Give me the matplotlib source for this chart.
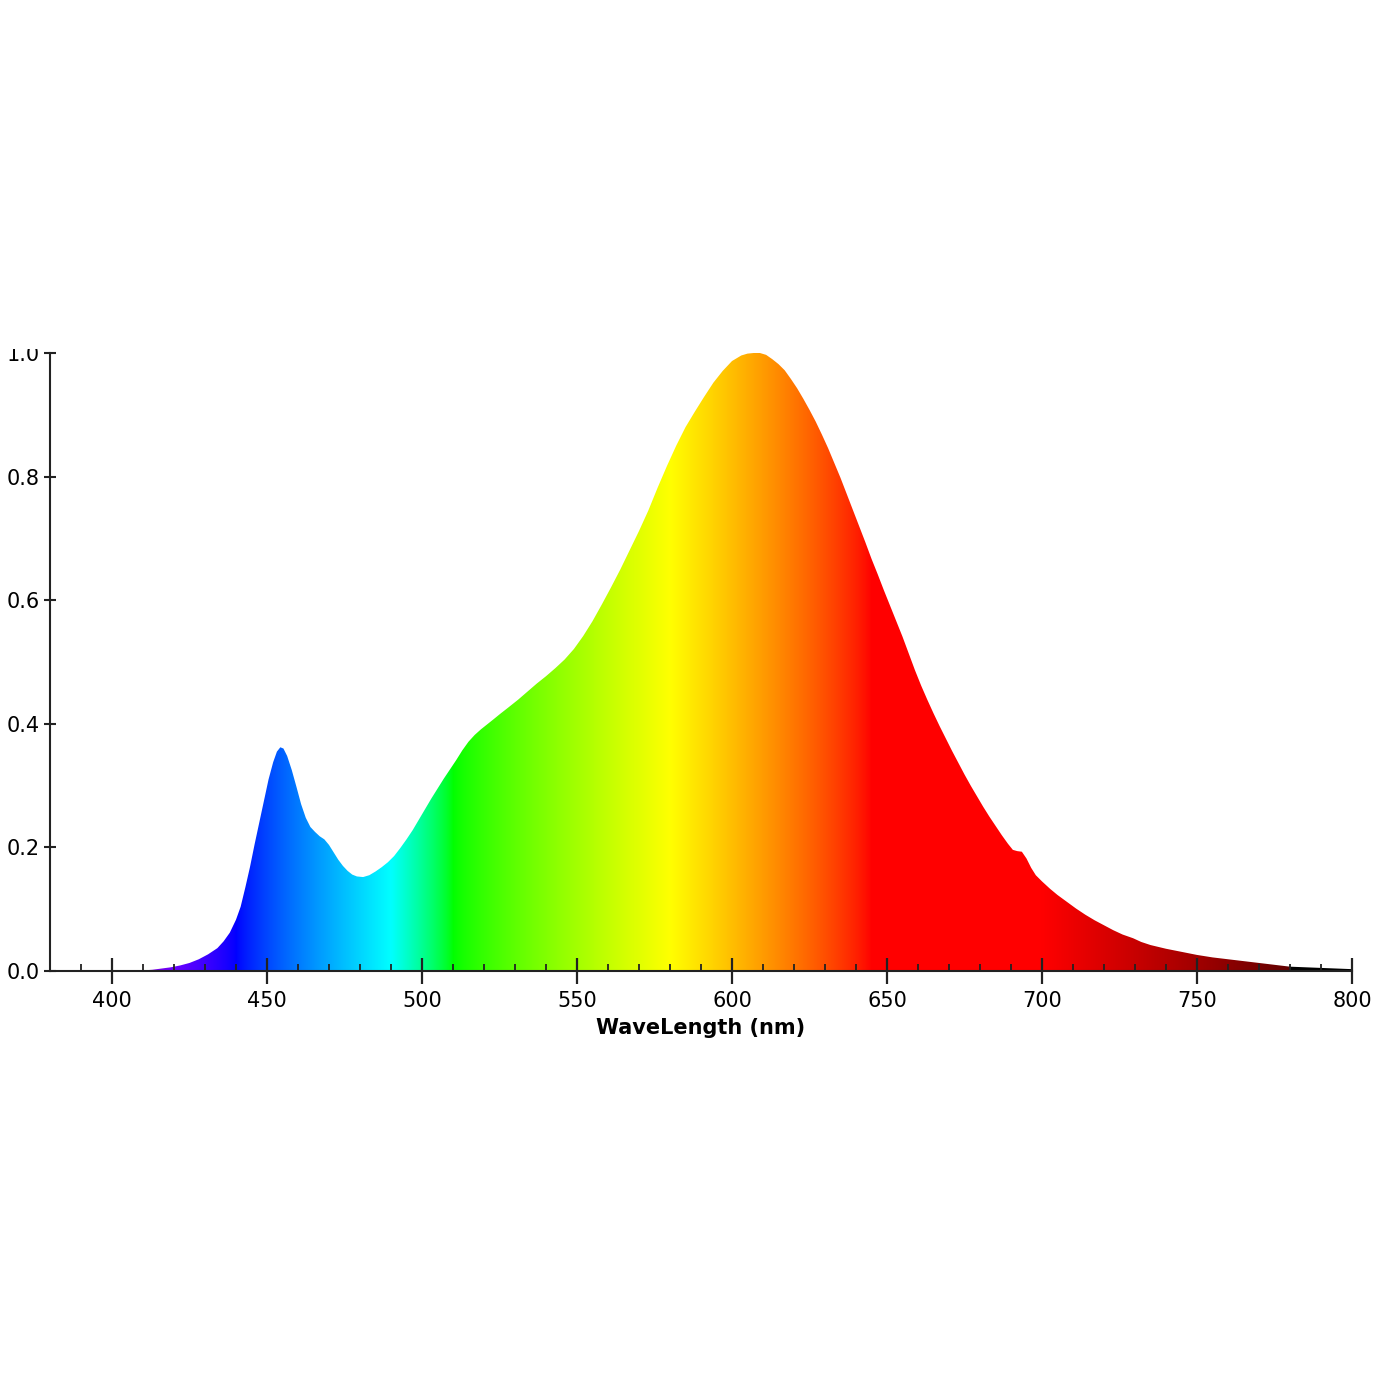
import numpy as np
import matplotlib
matplotlib.use("Agg")
import matplotlib.pyplot as plt
from matplotlib.ticker import MultipleLocator
from matplotlib.transforms import Bbox

# spectrum (wavelength in nm, normalised intensity)
wavelength = [380, 405, 410, 413, 416, 419, 422, 425, 428, 431, 434, 436, 438,
              440, 441.5, 443, 444.5, 446, 447.5, 449, 450.5, 452, 453.2, 454.3,
              455.3, 456.5, 458, 459.5, 461, 462.5, 464, 465.5, 467, 468.5, 470,
              471.5, 473, 474.5, 476, 477.5, 479, 481, 483, 485, 487, 489, 491,
              493, 495, 497, 499, 501, 503, 505, 507, 509, 511, 513, 515, 517,
              519, 521, 523, 525.2, 528, 531, 534, 537, 540, 543, 546, 549, 552,
              555, 558, 561, 564, 567, 570, 573, 576, 579, 582, 585, 588, 591,
              594, 597, 600, 603, 605, 607, 609, 611, 613, 615, 617, 619, 621,
              623, 625, 627, 629, 631, 633, 635, 637, 639, 641, 643, 645, 647,
              649, 651, 653, 655, 657, 659, 661, 663, 665, 667, 669, 671, 673,
              675, 677, 679, 681, 683, 685, 687, 689, 690.6, 692, 693.5, 695,
              696.5, 698, 700, 702.6, 705, 708, 711, 714, 717, 720, 723, 726,
              729.4, 732, 735, 740, 745, 750, 755, 760, 765, 770, 775, 780, 785,
              790, 795, 800]
intensity = [0.0, 0.0, 0.001, 0.002, 0.004, 0.006, 0.009, 0.013, 0.019, 0.027,
             0.037, 0.048, 0.062, 0.083, 0.104, 0.135, 0.168, 0.205, 0.240, 0.275,
             0.310, 0.338, 0.355, 0.362, 0.360, 0.348, 0.325, 0.298, 0.270, 0.248,
             0.233, 0.225, 0.218, 0.213, 0.204, 0.192, 0.180, 0.170, 0.162, 0.156,
             0.153, 0.152, 0.155, 0.161, 0.168, 0.176, 0.186, 0.199, 0.213, 0.228,
             0.245, 0.262, 0.279, 0.295, 0.311, 0.326, 0.341, 0.357, 0.371, 0.382,
             0.391, 0.399, 0.407, 0.416, 0.427, 0.439, 0.452, 0.465, 0.477, 0.490,
             0.504, 0.521, 0.542, 0.566, 0.593, 0.621, 0.650, 0.681, 0.712, 0.745,
             0.782, 0.817, 0.850, 0.880, 0.905, 0.929, 0.952, 0.971, 0.987, 0.996,
             0.999, 1.0, 1.0, 0.997, 0.990, 0.982, 0.972, 0.958, 0.943, 0.926,
             0.908, 0.889, 0.868, 0.846, 0.822, 0.798, 0.772, 0.746, 0.720, 0.694,
             0.667, 0.642, 0.616, 0.591, 0.566, 0.541, 0.514, 0.487, 0.462, 0.439,
             0.417, 0.396, 0.376, 0.356, 0.337, 0.318, 0.300, 0.283, 0.266, 0.250,
             0.235, 0.220, 0.206, 0.196, 0.194, 0.193, 0.182, 0.167, 0.155, 0.145,
             0.133, 0.123, 0.112, 0.101, 0.091, 0.082, 0.074, 0.066, 0.059, 0.053,
             0.047, 0.042, 0.036, 0.031, 0.026, 0.022, 0.019, 0.016, 0.013, 0.010,
             0.007, 0.006, 0.005, 0.004, 0.003]

x_ticks = [400, 450, 500, 550, 600, 650, 700, 750, 800]
y_ticks = [0.0, 0.2, 0.4, 0.6, 0.8, 1.0]


def wavelength_to_rgb(w, gamma=0.8):
    # Bruton's approximation of visible colours
    if w < 380 or w > 780:
        return (0.0, 0.0, 0.0)
    if w < 440:
        r, g, b = -(w - 440) / 60, 0.0, 1.0
    elif w < 490:
        r, g, b = 0.0, (w - 440) / 50, 1.0
    elif w < 510:
        r, g, b = 0.0, 1.0, -(w - 510) / 20
    elif w < 580:
        r, g, b = (w - 510) / 70, 1.0, 0.0
    elif w < 645:
        r, g, b = 1.0, -(w - 645) / 65, 0.0
    else:
        r, g, b = 1.0, 0.0, 0.0
    if w < 420:
        f = 0.3 + 0.7 * (w - 380) / 40
    elif w <= 700:
        f = 1.0
    else:
        f = 0.3 + 0.7 * (780 - w) / 80
    return tuple((c * f) ** gamma for c in (r, g, b))


fig = plt.figure(figsize=(13.95, 13.95), dpi=100)
ax = fig.add_axes([50 / 1395, 1 - 971 / 1395, 1302 / 1395, 618 / 1395])

# fill area, then paint the spectrum gradient clipped to it
poly = ax.fill_between(wavelength, intensity, 0, color="none", lw=0)
cols = np.linspace(380, 800, 1400)
grad = np.array([[wavelength_to_rgb(w) for w in cols]])
im = ax.imshow(grad, extent=[380, 800, 0, 1], aspect="auto", origin="lower",
               interpolation="bilinear", zorder=1)
im.set_clip_path(poly.get_paths()[0], ax.transData)

ax.set_xlim(380, 800)
ax.set_ylim(0, 1)

for s in ["top", "right"]:
    ax.spines[s].set_visible(False)
for s in ["left", "bottom"]:
    ax.spines[s].set_color("#222222")
    ax.spines[s].set_linewidth(1.5)
    ax.spines[s].set_zorder(3)

ax.set_xticks(x_ticks)
ax.xaxis.set_minor_locator(MultipleLocator(10))
ax.set_yticks(y_ticks)
ax.set_xticklabels([str(t) for t in x_ticks])
ax.set_yticklabels([f"{t:.1f}" for t in y_ticks])

ax.tick_params(axis="x", which="major", direction="inout", length=19, width=1.6,
               color="#222222", labelsize=15, pad=5)
ax.tick_params(axis="x", which="minor", direction="in", length=5, width=1.3,
               color="#222222")
ax.tick_params(axis="y", which="major", direction="inout", length=9, width=1.5,
               color="#222222", labelsize=15, pad=3)

ax.set_xlabel("WaveLength (nm)", fontsize=15, fontweight="bold", labelpad=5)
ax.set_ylabel("Intensity (a.u.)", fontsize=15, fontweight="bold")
ax.yaxis.set_label_coords(-0.0405, 0.5)

# top tick label is cut off in the reference
fig.canvas.draw()
top_lbl = ax.get_yticklabels()[-1]
top_lbl.set_clip_box(Bbox([[0, 0], [1395, 1395 - 349]]))
top_lbl.set_clip_on(True)

fig.savefig("out.png", dpi=100)
